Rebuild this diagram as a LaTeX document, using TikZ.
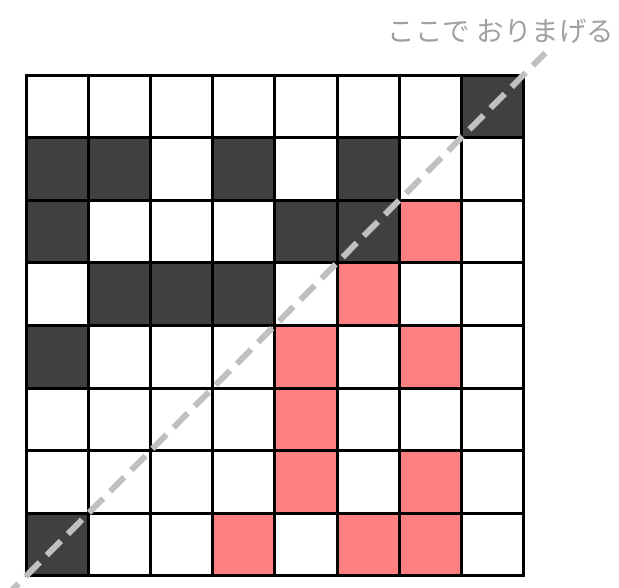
\documentclass[tikz,border=0pt]{standalone}
\usepackage{fontspec}
\usepackage{xcolor}
\usepackage{tikz}
\usetikzlibrary{calc}
\newfontfamily\jpfont{Noto Sans CJK JP}
\definecolor{inkdark}{RGB}{64,64,64}
\definecolor{inkpink}{RGB}{255,128,128}
\definecolor{foldgray}{RGB}{192,192,192}
\definecolor{labelgray}{RGB}{160,160,160}
\tikzstyle{darkcell}=[fill=inkdark]
\tikzstyle{pinkcell}=[fill=inkpink]
\tikzstyle{gridline}=[line width=3pt,draw=black]
\tikzstyle{foldline}=[line width=6pt,draw=foldgray,dash pattern=on 20pt off 10pt]
\tikzstyle{foldlabel}=[text=labelgray,font=\jpfont\fontsize{27.5}{32}\selectfont,inner sep=0pt]
\newcommand{\csx}{62.1}
\newcommand{\csy}{62.6}

\begin{document}
\begin{tikzpicture}[x=1pt,y=-1pt]
  \useasboundingbox (0,0) rectangle (619,587);
  \coordinate (orig) at (26.5,75);
  % dark cells (column/row)
  \foreach \c/\r in {7/0, 0/1,1/1,3/1,5/1, 0/2,4/2,5/2, 1/3,2/3,3/3, 0/4, 0/7}
    \fill[darkcell] ($(orig)+(\c*\csx,\r*\csy)$) rectangle +(\csx,\csy);
  % pink cells
  \foreach \c/\r in {6/2, 5/3, 4/4,6/4, 4/5, 4/6,6/6, 3/7,5/7,6/7}
    \fill[pinkcell] ($(orig)+(\c*\csx,\r*\csy)$) rectangle +(\csx,\csy);
  % grid
  \foreach \i in {0,...,8} {
    \draw[gridline] ($(orig)+(\i*\csx,-1.5)$) -- ++(0,8*\csy+3);
    \draw[gridline] ($(orig)+(-1.5,\i*\csy)$) -- ++(8*\csx+3,0);
  }
  % fold line
  \coordinate (foldA) at ($(orig)+(-22,8*\csy+22)$);
  \coordinate (foldB) at ($(orig)+(8*\csx+22,-22)$);
  \draw[foldline] (foldA) -- (foldB);
  \node[foldlabel] (foldtext) at (501,31) {ここで おりまげる};
\end{tikzpicture}
\end{document}
